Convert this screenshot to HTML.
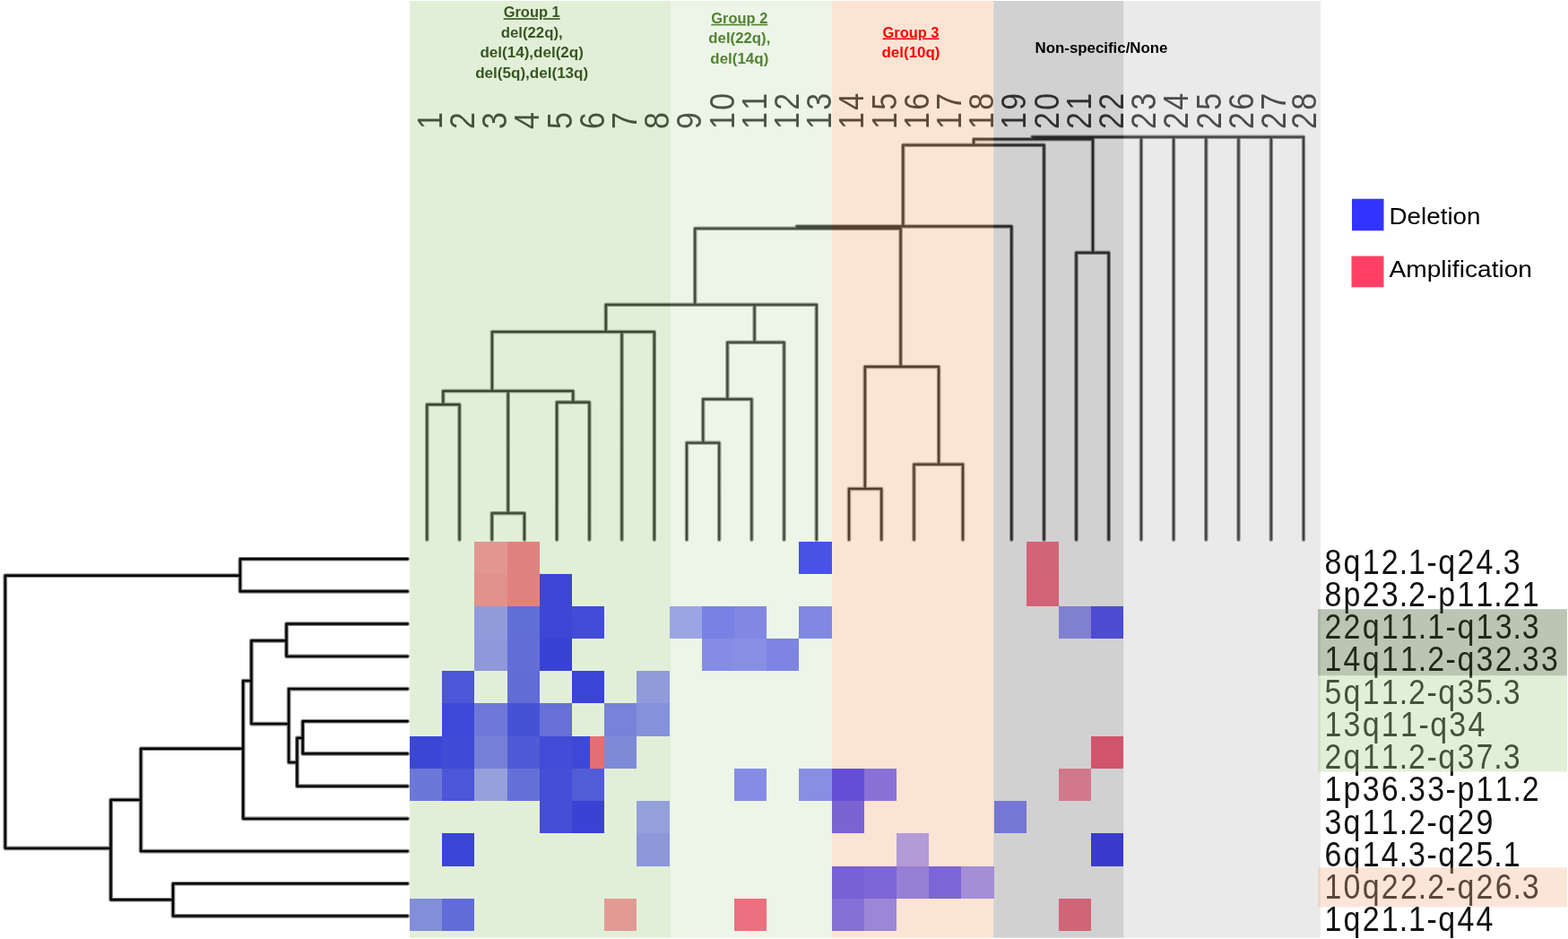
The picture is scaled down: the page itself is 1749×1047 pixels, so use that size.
<!DOCTYPE html>
<html lang="en">
<head>
<meta charset="utf-8">
<title>Copy number clustering heatmap</title>
<style>
html,body{margin:0;padding:0;background:#fff;}
body{width:1749px;height:1047px;overflow:hidden;}
svg{display:block;}
</style>
</head>
<body>
<svg width="1749" height="1047" viewBox="0 0 1749 1047">
<rect x="0" y="0" width="1749" height="1047" fill="#ffffff"/>
<g>
<path d="M476.3 451.10L476.3 601.80 M512.5 451.10L512.5 601.80 M476.3 451.10L512.5 451.10 M494.3 436.00L494.3 451.10 M548.7 572.20L548.7 601.80 M584.9 572.20L584.9 601.80 M548.7 572.20L584.9 572.20 M566.7 436.00L566.7 572.20 M621.1 448.60L621.1 601.80 M657.4 448.60L657.4 601.80 M621.1 448.60L657.4 448.60 M639.2 436.00L639.2 448.60 M494.3 436.00L639.2 436.00 M548.9 370.00L548.9 436.00 M548.9 370.00L729.8 370.00 M693.6 370.00L693.6 601.80 M729.8 370.00L729.8 601.80 M675.8 339.80L675.8 370.00 M675.8 339.80L910.8 339.80 M910.8 339.80L910.8 601.80 M766.0 493.80L766.0 601.80 M802.2 493.80L802.2 601.80 M766.0 493.80L802.2 493.80 M784.2 445.10L784.2 493.80 M784.2 445.10L838.4 445.10 M838.4 445.10L838.4 601.80 M811.4 381.70L811.4 445.10 M811.4 381.70L874.6 381.70 M874.6 381.70L874.6 601.80 M841.6 339.80L841.6 381.70 M775.2 254.70L775.2 339.80 M775.2 254.70L1004.6 254.70 M1004.6 254.70L1004.6 408.90 M888.6 252.40L1128.3 252.40 M1128.3 252.40L1128.3 601.80 M1007.3 161.70L1007.3 252.40 M1007.3 161.70L1164.5 161.70 M1164.5 161.70L1164.5 601.80 M1086.1 155.30L1086.1 161.70 M1086.1 155.30L1219.0 155.30 M1151.5 152.70L1454.0 152.70 M1219.0 152.70L1219.0 281.80 M1200.5 281.80L1236.7 281.80 M1200.5 281.80L1200.5 601.80 M1236.7 281.80L1236.7 601.80 M1272.9 152.70L1272.9 601.80 M1309.1 152.70L1309.1 601.80 M1345.3 152.70L1345.3 601.80 M1381.5 152.70L1381.5 601.80 M1417.8 152.70L1417.8 601.80 M1454.0 152.70L1454.0 601.80 M964.8 408.90L1047.1 408.90 M964.8 408.90L964.8 545.00 M947.0 545.00L983.2 545.00 M947.0 545.00L947.0 601.80 M983.2 545.00L983.2 601.80 M1047.1 408.90L1047.1 517.80 M1019.5 517.80L1074.0 517.80 M1019.5 517.80L1019.5 601.80 M1074.0 517.80L1074.0 601.80" stroke="#000" stroke-opacity="0.5" stroke-width="4.50" stroke-linecap="round" stroke-linejoin="round" fill="none"/>
<path d="M476.3 451.10L476.3 601.80 M512.5 451.10L512.5 601.80 M476.3 451.10L512.5 451.10 M494.3 436.00L494.3 451.10 M548.7 572.20L548.7 601.80 M584.9 572.20L584.9 601.80 M548.7 572.20L584.9 572.20 M566.7 436.00L566.7 572.20 M621.1 448.60L621.1 601.80 M657.4 448.60L657.4 601.80 M621.1 448.60L657.4 448.60 M639.2 436.00L639.2 448.60 M494.3 436.00L639.2 436.00 M548.9 370.00L548.9 436.00 M548.9 370.00L729.8 370.00 M693.6 370.00L693.6 601.80 M729.8 370.00L729.8 601.80 M675.8 339.80L675.8 370.00 M675.8 339.80L910.8 339.80 M910.8 339.80L910.8 601.80 M766.0 493.80L766.0 601.80 M802.2 493.80L802.2 601.80 M766.0 493.80L802.2 493.80 M784.2 445.10L784.2 493.80 M784.2 445.10L838.4 445.10 M838.4 445.10L838.4 601.80 M811.4 381.70L811.4 445.10 M811.4 381.70L874.6 381.70 M874.6 381.70L874.6 601.80 M841.6 339.80L841.6 381.70 M775.2 254.70L775.2 339.80 M775.2 254.70L1004.6 254.70 M1004.6 254.70L1004.6 408.90 M888.6 252.40L1128.3 252.40 M1128.3 252.40L1128.3 601.80 M1007.3 161.70L1007.3 252.40 M1007.3 161.70L1164.5 161.70 M1164.5 161.70L1164.5 601.80 M1086.1 155.30L1086.1 161.70 M1086.1 155.30L1219.0 155.30 M1151.5 152.70L1454.0 152.70 M1219.0 152.70L1219.0 281.80 M1200.5 281.80L1236.7 281.80 M1200.5 281.80L1200.5 601.80 M1236.7 281.80L1236.7 601.80 M1272.9 152.70L1272.9 601.80 M1309.1 152.70L1309.1 601.80 M1345.3 152.70L1345.3 601.80 M1381.5 152.70L1381.5 601.80 M1417.8 152.70L1417.8 601.80 M1454.0 152.70L1454.0 601.80 M964.8 408.90L1047.1 408.90 M964.8 408.90L964.8 545.00 M947.0 545.00L983.2 545.00 M947.0 545.00L947.0 601.80 M983.2 545.00L983.2 601.80 M1047.1 408.90L1047.1 517.80 M1019.5 517.80L1074.0 517.80 M1019.5 517.80L1019.5 601.80 M1074.0 517.80L1074.0 601.80" stroke="#000" stroke-width="2.10" stroke-linecap="round" stroke-linejoin="round" fill="none"/>
<path d="M1152.5 154.0L1218.5 154.0 M890 253.55L1004 253.55" stroke="#000" stroke-width="1.4" fill="none"/>
<path d="M267.9 623.25L454.6 623.25 M267.9 659.45L454.6 659.45 M267.9 623.25L267.9 659.45 M5.8 641.75L267.9 641.75 M5.8 641.75L5.8 945.85 M5.8 945.85L123.6 945.85 M123.6 891.95L123.6 1003.25 M123.6 1003.25L193.0 1003.25 M193.0 985.25L193.0 1021.45 M193.0 985.25L454.6 985.25 M193.0 1021.45L454.6 1021.45 M123.6 891.95L157.1 891.95 M157.1 834.75L157.1 949.05 M157.1 949.05L454.6 949.05 M157.1 834.75L271.2 834.75 M271.2 759.05L271.2 912.85 M271.2 912.85L454.6 912.85 M271.2 759.05L280.4 759.05 M280.4 714.35L280.4 807.05 M280.4 714.35L319.5 714.35 M319.5 695.65L319.5 731.85 M319.5 695.65L454.6 695.65 M319.5 731.85L454.6 731.85 M280.4 807.05L322.1 807.05 M322.1 768.05L322.1 850.05 M322.1 768.05L454.6 768.05 M322.1 850.05L331.4 850.05 M331.4 822.85L331.4 876.65 M331.4 876.65L454.6 876.65 M331.4 822.85L337.7 822.85 M337.7 804.25L337.7 840.45 M337.7 804.25L454.6 804.25 M337.7 840.45L454.6 840.45" stroke="#000" stroke-opacity="0.5" stroke-width="4.70" stroke-linecap="round" stroke-linejoin="round" fill="none"/>
<path d="M267.9 623.25L454.6 623.25 M267.9 659.45L454.6 659.45 M267.9 623.25L267.9 659.45 M5.8 641.75L267.9 641.75 M5.8 641.75L5.8 945.85 M5.8 945.85L123.6 945.85 M123.6 891.95L123.6 1003.25 M123.6 1003.25L193.0 1003.25 M193.0 985.25L193.0 1021.45 M193.0 985.25L454.6 985.25 M193.0 1021.45L454.6 1021.45 M123.6 891.95L157.1 891.95 M157.1 834.75L157.1 949.05 M157.1 949.05L454.6 949.05 M157.1 834.75L271.2 834.75 M271.2 759.05L271.2 912.85 M271.2 912.85L454.6 912.85 M271.2 759.05L280.4 759.05 M280.4 714.35L280.4 807.05 M280.4 714.35L319.5 714.35 M319.5 695.65L319.5 731.85 M319.5 695.65L454.6 695.65 M319.5 731.85L454.6 731.85 M280.4 807.05L322.1 807.05 M322.1 768.05L322.1 850.05 M322.1 768.05L454.6 768.05 M322.1 850.05L331.4 850.05 M331.4 822.85L331.4 876.65 M331.4 876.65L454.6 876.65 M331.4 822.85L337.7 822.85 M337.7 804.25L337.7 840.45 M337.7 804.25L454.6 804.25 M337.7 840.45L454.6 840.45" stroke="#000" stroke-width="2.30" stroke-linecap="round" stroke-linejoin="round" fill="none"/>
<g font-family='"Liberation Sans", Arial, sans-serif' font-size="34.0" fill="#000" fill-opacity="0.93" stroke="none">
<text transform="translate(492.7 145.0) rotate(-90) scale(1 1.155)" x="1.12" y="0">1</text>
<text transform="translate(528.9 145.0) rotate(-90) scale(1 1.155)" x="1.12" y="0">2</text>
<text transform="translate(565.1 145.0) rotate(-90) scale(1 1.155)" x="1.12" y="0">3</text>
<text transform="translate(601.3 145.0) rotate(-90) scale(1 1.155)" x="1.12" y="0">4</text>
<text transform="translate(637.5 145.0) rotate(-90) scale(1 1.155)" x="1.12" y="0">5</text>
<text transform="translate(673.7 145.0) rotate(-90) scale(1 1.155)" x="1.12" y="0">6</text>
<text transform="translate(709.9 145.0) rotate(-90) scale(1 1.155)" x="1.12" y="0">7</text>
<text transform="translate(746.1 145.0) rotate(-90) scale(1 1.155)" x="1.12" y="0">8</text>
<text transform="translate(782.3 145.0) rotate(-90) scale(1 1.155)" x="1.12" y="0">9</text>
<text transform="translate(818.5 145.0) rotate(-90) scale(1 1.155)" x="1.12 22.26" y="0">10</text>
<text transform="translate(854.7 145.0) rotate(-90) scale(1 1.155)" x="1.12 22.26" y="0">11</text>
<text transform="translate(890.9 145.0) rotate(-90) scale(1 1.155)" x="1.12 22.26" y="0">12</text>
<text transform="translate(927.1 145.0) rotate(-90) scale(1 1.155)" x="1.12 22.26" y="0">13</text>
<text transform="translate(963.3 145.0) rotate(-90) scale(1 1.155)" x="1.12 22.26" y="0">14</text>
<text transform="translate(999.5 145.0) rotate(-90) scale(1 1.155)" x="1.12 22.26" y="0">15</text>
<text transform="translate(1035.7 145.0) rotate(-90) scale(1 1.155)" x="1.12 22.26" y="0">16</text>
<text transform="translate(1071.9 145.0) rotate(-90) scale(1 1.155)" x="1.12 22.26" y="0">17</text>
<text transform="translate(1108.1 145.0) rotate(-90) scale(1 1.155)" x="1.12 22.26" y="0">18</text>
<text transform="translate(1144.3 145.0) rotate(-90) scale(1 1.155)" x="1.12 22.26" y="0">19</text>
<text transform="translate(1180.5 145.0) rotate(-90) scale(1 1.155)" x="1.12 22.26" y="0">20</text>
<text transform="translate(1216.7 145.0) rotate(-90) scale(1 1.155)" x="1.12 22.26" y="0">21</text>
<text transform="translate(1252.9 145.0) rotate(-90) scale(1 1.155)" x="1.12 22.26" y="0">22</text>
<text transform="translate(1289.1 145.0) rotate(-90) scale(1 1.155)" x="1.12 22.26" y="0">23</text>
<text transform="translate(1325.3 145.0) rotate(-90) scale(1 1.155)" x="1.12 22.26" y="0">24</text>
<text transform="translate(1361.5 145.0) rotate(-90) scale(1 1.155)" x="1.12 22.26" y="0">25</text>
<text transform="translate(1397.7 145.0) rotate(-90) scale(1 1.155)" x="1.12 22.26" y="0">26</text>
<text transform="translate(1433.9 145.0) rotate(-90) scale(1 1.155)" x="1.12 22.26" y="0">27</text>
<text transform="translate(1468.0 145.0) rotate(-90) scale(1 1.155)" x="1.12 22.26" y="0">28</text>
</g>
<g font-family='"Liberation Sans", Arial, sans-serif' font-size="34.0" fill="#000" fill-opacity="0.93" stroke="none">
<text transform="translate(1476.3 639.7) scale(1 1.155)" x="1.12 22.26 43.40 64.54 84.36 94.74 115.14 127.96 149.10 170.24 190.06 200.44" y="0">8q12.1-q24.3</text>
<text transform="translate(1476.3 675.9) scale(1 1.155)" x="1.12 22.26 43.40 64.54 84.36 94.74 115.14 127.96 149.10 170.24 190.06 200.44 221.58" y="0">8p23.2-p11.21</text>
<text transform="translate(1476.3 712.1) scale(1 1.155)" x="1.12 22.26 43.40 64.54 85.68 105.50 115.88 136.28 149.10 170.24 191.38 211.20 221.58" y="0">22q11.1-q13.3</text>
<text transform="translate(1476.3 748.4) scale(1 1.155)" x="1.12 22.26 43.40 64.54 85.68 105.50 115.88 136.28 149.10 170.24 191.38 211.20 221.58 242.72" y="0">14q11.2-q32.33</text>
<text transform="translate(1476.3 784.6) scale(1 1.155)" x="1.12 22.26 43.40 64.54 84.36 94.74 115.14 127.96 149.10 170.24 190.06 200.44" y="0">5q11.2-q35.3</text>
<text transform="translate(1476.3 820.8) scale(1 1.155)" x="1.12 22.26 43.40 64.54 85.68 106.08 118.90 140.04 161.18" y="0">13q11-q34</text>
<text transform="translate(1476.3 857.0) scale(1 1.155)" x="1.12 22.26 43.40 64.54 84.36 94.74 115.14 127.96 149.10 170.24 190.06 200.44" y="0">2q11.2-q37.3</text>
<text transform="translate(1476.3 893.2) scale(1 1.155)" x="1.12 22.26 43.40 64.54 84.36 94.74 115.88 136.28 149.10 170.24 191.38 211.20 221.58" y="0">1p36.33-p11.2</text>
<text transform="translate(1476.3 929.5) scale(1 1.155)" x="1.12 22.26 43.40 64.54 84.36 94.74 115.14 127.96 149.10 170.24" y="0">3q11.2-q29</text>
<text transform="translate(1476.3 965.7) scale(1 1.155)" x="1.12 22.26 43.40 64.54 84.36 94.74 115.14 127.96 149.10 170.24 190.06 200.44" y="0">6q14.3-q25.1</text>
<text transform="translate(1476.3 1001.9) scale(1 1.155)" x="1.12 22.26 43.40 64.54 85.68 105.50 115.88 136.28 149.10 170.24 191.38 211.20 221.58" y="0">10q22.2-q26.3</text>
<text transform="translate(1476.3 1038.1) scale(1 1.155)" x="1.12 22.26 43.40 64.54 84.36 94.74 115.14 127.96 149.10 170.24" y="0">1q21.1-q44</text>
</g>
</g>
<rect x="457.0" y="1.0" width="290.8" height="1044.7" fill="#A9D18E" fill-opacity="0.34"/>
<rect x="747.8" y="1.0" width="180.5" height="1044.7" fill="#C5E0B4" fill-opacity="0.32"/>
<rect x="928.3" y="1.0" width="180.0" height="1044.7" fill="#F4B183" fill-opacity="0.345"/>
<rect x="1108.3" y="1.0" width="145.0" height="1044.7" fill="#717171" fill-opacity="0.32"/>
<rect x="1253.3" y="1.0" width="219.6" height="1044.7" fill="#BFBFBF" fill-opacity="0.33"/>
<rect x="1470" y="679.2" width="278" height="74.2" fill="#375623" fill-opacity="0.345"/>
<rect x="1470" y="753.5" width="278" height="106.9" fill="#A9D18E" fill-opacity="0.34"/>
<rect x="1470" y="967.3" width="278" height="44.0" fill="#F4B183" fill-opacity="0.33"/>
<g shape-rendering="crispEdges">
<rect x="529" y="604" width="37" height="36" fill="#e29691"/>
<rect x="566" y="604" width="36" height="36" fill="#e28280"/>
<rect x="891" y="604" width="37" height="36" fill="#4852e4"/>
<rect x="1145" y="604" width="36" height="36" fill="#d26478"/>
<rect x="529" y="640" width="37" height="36" fill="#e2918c"/>
<rect x="566" y="640" width="36" height="36" fill="#e28280"/>
<rect x="602" y="640" width="36" height="36" fill="#3e46d6"/>
<rect x="1145" y="640" width="36" height="36" fill="#d26276"/>
<rect x="529" y="676" width="37" height="36" fill="#919bdc"/>
<rect x="566" y="676" width="36" height="36" fill="#626ed8"/>
<rect x="602" y="676" width="36" height="36" fill="#3e46d6"/>
<rect x="638" y="676" width="36" height="36" fill="#424cd6"/>
<rect x="747" y="676" width="36" height="36" fill="#9ba5e6"/>
<rect x="783" y="676" width="36" height="36" fill="#7882e4"/>
<rect x="819" y="676" width="36" height="36" fill="#8088e4"/>
<rect x="891" y="676" width="37" height="36" fill="#8088e4"/>
<rect x="1181" y="676" width="36" height="36" fill="#8080d2"/>
<rect x="1217" y="676" width="36" height="36" fill="#4c4cd2"/>
<rect x="529" y="712" width="37" height="36" fill="#8f98da"/>
<rect x="566" y="712" width="36" height="36" fill="#646ed8"/>
<rect x="602" y="712" width="36" height="36" fill="#3842d6"/>
<rect x="783" y="712" width="36" height="36" fill="#858ce4"/>
<rect x="819" y="712" width="36" height="36" fill="#878fe4"/>
<rect x="855" y="712" width="36" height="36" fill="#7d84e4"/>
<rect x="493" y="748" width="36" height="36" fill="#4c56d6"/>
<rect x="566" y="748" width="36" height="36" fill="#626cd6"/>
<rect x="638" y="748" width="36" height="36" fill="#3a44d6"/>
<rect x="710" y="748" width="37" height="36" fill="#8f9bda"/>
<rect x="493" y="784" width="36" height="37" fill="#3e48d6"/>
<rect x="529" y="784" width="37" height="37" fill="#6e78d8"/>
<rect x="566" y="784" width="36" height="37" fill="#4652d6"/>
<rect x="602" y="784" width="36" height="37" fill="#6670d6"/>
<rect x="674" y="784" width="36" height="37" fill="#7882d8"/>
<rect x="710" y="784" width="37" height="37" fill="#8591da"/>
<rect x="457" y="821" width="36" height="36" fill="#3c46d6"/>
<rect x="493" y="821" width="36" height="36" fill="#404bd6"/>
<rect x="529" y="821" width="37" height="36" fill="#7680d8"/>
<rect x="566" y="821" width="36" height="36" fill="#505ad6"/>
<rect x="602" y="821" width="36" height="36" fill="#424cd6"/>
<rect x="674" y="821" width="36" height="36" fill="#7d8ad8"/>
<rect x="1217" y="821" width="36" height="36" fill="#d2546c"/>
<rect x="457" y="857" width="36" height="36" fill="#6c78d8"/>
<rect x="493" y="857" width="36" height="36" fill="#4c56d6"/>
<rect x="529" y="857" width="37" height="36" fill="#96a0da"/>
<rect x="566" y="857" width="36" height="36" fill="#6470d8"/>
<rect x="602" y="857" width="36" height="36" fill="#444ed6"/>
<rect x="638" y="857" width="36" height="36" fill="#525cd6"/>
<rect x="819" y="857" width="36" height="36" fill="#858ce4"/>
<rect x="891" y="857" width="37" height="36" fill="#878fe4"/>
<rect x="928" y="857" width="36" height="36" fill="#644ed6"/>
<rect x="964" y="857" width="36" height="36" fill="#8872d6"/>
<rect x="1181" y="857" width="36" height="36" fill="#d2788a"/>
<rect x="602" y="893" width="36" height="36" fill="#444ed6"/>
<rect x="638" y="893" width="36" height="36" fill="#3a42d6"/>
<rect x="710" y="893" width="37" height="36" fill="#94a0da"/>
<rect x="928" y="893" width="36" height="36" fill="#7a64d2"/>
<rect x="1109" y="893" width="36" height="36" fill="#7676d4"/>
<rect x="493" y="929" width="36" height="37" fill="#3a44d6"/>
<rect x="710" y="929" width="37" height="37" fill="#8c98da"/>
<rect x="1000" y="929" width="36" height="37" fill="#b29bd6"/>
<rect x="1217" y="929" width="36" height="37" fill="#3a3ace"/>
<rect x="928" y="966" width="36" height="36" fill="#7860d6"/>
<rect x="964" y="966" width="36" height="36" fill="#7c66d6"/>
<rect x="1000" y="966" width="36" height="36" fill="#9680d6"/>
<rect x="1036" y="966" width="36" height="36" fill="#7c66d6"/>
<rect x="1072" y="966" width="37" height="36" fill="#a58ed6"/>
<rect x="457" y="1002" width="36" height="36" fill="#828eda"/>
<rect x="493" y="1002" width="36" height="36" fill="#626cd8"/>
<rect x="674" y="1002" width="36" height="36" fill="#e29b94"/>
<rect x="819" y="1002" width="36" height="36" fill="#ec7080"/>
<rect x="928" y="1002" width="36" height="36" fill="#8470d6"/>
<rect x="964" y="1002" width="36" height="36" fill="#9b87d6"/>
<rect x="1181" y="1002" width="36" height="36" fill="#d2647a"/>
<rect x="638" y="821" width="20" height="36" fill="#3e48d6"/>
<rect x="658" y="821" width="16" height="36" fill="#e26e76"/>
</g>
<g font-family='"Liberation Sans", Arial, sans-serif' font-size="16" font-weight="bold" fill="#375623" text-anchor="middle"><text x="593.2" y="19.3" textLength="63" lengthAdjust="spacingAndGlyphs" text-decoration="underline">Group 1</text><text x="593.2" y="41.8" textLength="69" lengthAdjust="spacingAndGlyphs">del(22q),</text><text x="593.2" y="64.3" textLength="115.5" lengthAdjust="spacingAndGlyphs">del(14),del(2q)</text><text x="593.2" y="86.8" textLength="126" lengthAdjust="spacingAndGlyphs">del(5q),del(13q)</text></g>
<g font-family='"Liberation Sans", Arial, sans-serif' font-size="16" font-weight="bold" fill="#548235" text-anchor="middle"><text x="824.8" y="25.8" textLength="63" lengthAdjust="spacingAndGlyphs" text-decoration="underline">Group 2</text><text x="824.8" y="48.3" textLength="69" lengthAdjust="spacingAndGlyphs">del(22q),</text><text x="824.8" y="70.8" textLength="65" lengthAdjust="spacingAndGlyphs">del(14q)</text></g>
<g font-family='"Liberation Sans", Arial, sans-serif' font-size="16" font-weight="bold" fill="#FF0000" text-anchor="middle"><text x="1016" y="41.5" textLength="63" lengthAdjust="spacingAndGlyphs" text-decoration="underline">Group 3</text><text x="1016" y="64.0" textLength="65" lengthAdjust="spacingAndGlyphs">del(10q)</text></g>
<g font-family='"Liberation Sans", Arial, sans-serif' font-size="16" font-weight="bold" fill="#000000" text-anchor="middle"><text x="1228.5" y="58.5" textLength="148" lengthAdjust="spacingAndGlyphs">Non-specific/None</text></g>
<rect x="1508" y="221.7" width="35.5" height="35.5" fill="#3333FF"/>
<rect x="1507.5" y="285.5" width="36" height="34.8" fill="#FF4064"/>
<g font-family='"Liberation Sans", Arial, sans-serif' font-size="26.3" fill="#000">
<text x="1549.5" y="249.8" textLength="102" lengthAdjust="spacingAndGlyphs">Deletion</text>
<text x="1549.5" y="309.3" textLength="159.5" lengthAdjust="spacingAndGlyphs">Amplification</text>
</g>
</svg>
</body>
</html>
